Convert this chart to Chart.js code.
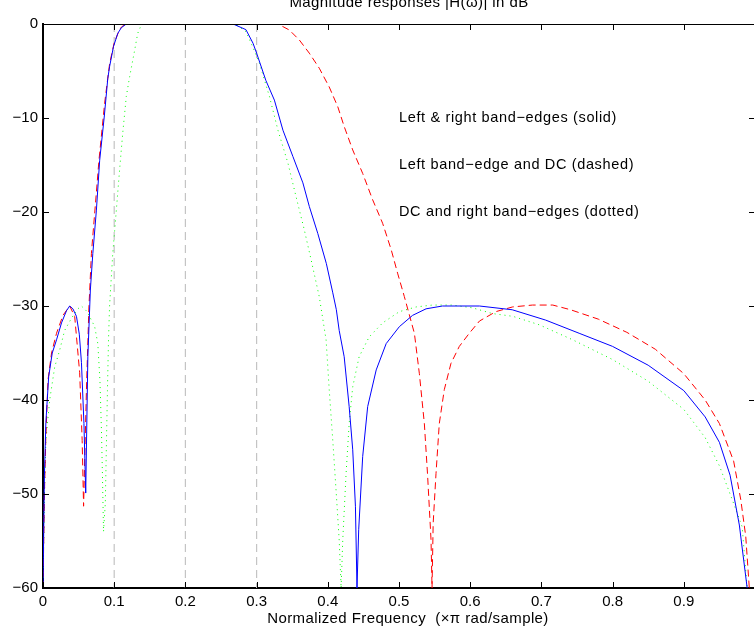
<!DOCTYPE html>
<html>
<head>
<meta charset="utf-8">
<script src="https://cdn.jsdelivr.net/npm/chart.js@4.4.1/dist/chart.umd.min.js"></script>
<style>
  html, body { margin: 0; padding: 0; background: #fff; overflow: hidden; }
  #wrap { position: relative; width: 760px; height: 629px; }
</style>
</head>
<body>
<div id="wrap"><canvas id="magChart" width="760" height="629"></canvas></div>
<script>
/* ---- Data (frequency in xpi rad/sample, magnitude in dB) ---- */
const solidFreq = [0, 0.002, 0.004, 0.008, 0.013, 0.019, 0.026, 0.033, 0.0375, 0.042, 0.047, 0.051, 0.054, 0.0575, 0.06,
  0.063, 0.0665, 0.070, 0.075, 0.0796, 0.086, 0.091, 0.0936, 0.099, 0.105, 0.110, 0.117,
  0.267, 0.285, 0.295, 0.30, 0.313, 0.325, 0.337, 0.351, 0.365, 0.374, 0.386, 0.398, 0.407, 0.412,
  0.416, 0.423, 0.430, 0.435, 0.4388, 0.441, 0.4434, 0.449, 0.456, 0.468, 0.482, 0.5005, 0.519, 0.538,
  0.561, 0.613, 0.659, 0.706, 0.753, 0.80, 0.85, 0.90, 0.93, 0.95, 0.965, 0.978, 0.989, 1.0];
const solidDb = [-60, -48, -42.4, -37.5, -35, -33.6, -31.8, -30.5, -30, -30.3, -31.1, -33, -36, -42.5, -49.9,
  -35.4, -28.3, -24.4, -19.8, -14.5, -9.9, -5.8, -4.5, -2.4, -1.0, -0.4, 0,
  0, -0.6, -2.05, -3.1, -6, -8.1, -11.3, -14.1, -16.9, -19.4, -22.3, -25.5, -28.6, -30.4,
  -32.6, -35.4, -40.7, -45.3, -51.3, -60, -53.8, -46, -40.7, -36.8, -34, -32.2, -31, -30.3,
  -30, -30, -30.4, -31.5, -32.9, -34.3, -36.3, -39, -41.8, -44.5, -48, -53.3, -60, -70];

const dashedFreq = [0, 0.002, 0.004, 0.007, 0.012, 0.019, 0.028, 0.0375, 0.0445, 0.0515, 0.055, 0.057,
  0.061, 0.0645, 0.068, 0.0786, 0.0866, 0.0936, 0.100, 0.108, 0.115,
  0.33, 0.346, 0.36, 0.374, 0.388, 0.402, 0.414, 0.423, 0.435, 0.449, 0.463, 0.477, 0.489, 0.498, 0.5075,
  0.5216, 0.5286, 0.5356, 0.540, 0.545, 0.5464, 0.548, 0.552, 0.5566, 0.5636, 0.573, 0.5847, 0.5987,
  0.613, 0.636, 0.6595, 0.6875, 0.716, 0.741, 0.78, 0.82, 0.86, 0.90, 0.93, 0.95, 0.97, 0.98, 0.987, 0.992, 1.0];
const dashedDb = [-60, -50, -44, -37.9, -35, -32.9, -31, -30, -31.1, -37.1, -44.3, -51.3,
  -38.9, -30.1, -24.4, -14.5, -8.4, -4.2, -2, -0.5, 0,
  0, -0.64, -1.7, -3.1, -4.7, -6.7, -8.8, -10.9, -13.4, -15.9, -18.7, -21.2, -24, -26.5, -29,
  -32.9, -37.2, -42.5, -47.8, -54.9, -60, -53.1, -47.8, -42.5, -38.9, -36.1, -34.3, -32.9,
  -31.6, -30.6, -30.1, -29.9, -29.9, -30.4, -31.4, -32.8, -34.6, -37.2, -40, -42.5, -46.5, -50.6, -54.5, -60, -70];

const dottedFreq = [0, 0.002, 0.004, 0.0094, 0.0164, 0.0234, 0.0304, 0.040, 0.049, 0.054, 0.062, 0.070,
  0.0726, 0.077, 0.080, 0.082, 0.0835, 0.085, 0.0875, 0.089, 0.0905, 0.092, 0.0935, 0.098, 0.103,
  0.1076, 0.112, 0.117, 0.1217, 0.1287, 0.133, 0.138, 0.141,
  0.27, 0.285, 0.295, 0.304, 0.318, 0.33, 0.344, 0.3555, 0.367, 0.3766, 0.388, 0.3976, 0.402, 0.407,
  0.4116, 0.416, 0.4187, 0.421, 0.4257, 0.43, 0.435, 0.444, 0.458, 0.477, 0.5005, 0.524, 0.547, 0.575,
  0.6034, 0.631, 0.66, 0.697, 0.744, 0.80, 0.85, 0.90, 0.93, 0.95, 0.968, 0.982, 0.989, 1.0];
const dottedDb = [-60, -50, -44.3, -40, -36.5, -34.7, -32.6, -31.3, -30.3, -30, -30.6, -31.8,
  -32.2, -34, -38, -43, -48, -54, -51, -45, -39, -33.6, -30, -24.4, -19.8,
  -15.5, -11.6, -7.7, -5.6, -2.8, -1, -0.1, 0,
  0, -0.8, -2.5, -4.2, -7.7, -11.3, -14.8, -18.4, -21.9, -25.1, -29, -33.6, -38.9, -44.3,
  -49.6, -54.9, -60, -54.9, -47.8, -42.5, -38.6, -35.4, -33.3, -31.8, -30.6, -30.1, -29.9, -29.9,
  -30.2, -30.8, -31.1, -32, -33.6, -35.7, -38, -41, -44, -47, -50.6, -53.5, -60, -70];

const bandEdges = [0.1, 0.2, 0.3];
const yTicks = [0, -10, -20, -30, -40, -50, -60];
const noteLabels = ['Left & right band\u2212edges (solid)', 'Left band\u2212edge and DC (dashed)', 'DC and right band\u2212edges (dotted)'];
const noteDb = [-10, -15, -20];

const FONT = 'Helvetica, "Liberation Sans", Arial, sans-serif';

const toPoints = (xs, ys) => xs.map((x, i) => ({ x, y: ys[i] }));

/* ---- Box, inward ticks, titles and notes ---- */
const matlabFrame = {
  id: 'matlabFrame',
  afterDraw(chart) {
    const { ctx, chartArea: a, scales: { x, y } } = chart;
    ctx.save();
    ctx.strokeStyle = '#000';
    ctx.lineWidth = 1;
    ctx.beginPath();
    ctx.moveTo(a.left, a.top + 0.5); ctx.lineTo(a.right, a.top + 0.5);
    ctx.moveTo(a.right - 0.5, a.top); ctx.lineTo(a.right - 0.5, a.bottom);
    for (let v = 0; v <= 10; v++) {
      const px = Math.round(x.getPixelForValue(v / 10)) + 0.5;
      ctx.moveTo(px, a.bottom); ctx.lineTo(px, a.bottom - 6);
      ctx.moveTo(px, a.top); ctx.lineTo(px, a.top + 6);
    }
    yTicks.forEach(v => {
      const py = Math.round(y.getPixelForValue(v)) + 0.5;
      ctx.moveTo(a.left, py); ctx.lineTo(a.left + 6, py);
      ctx.moveTo(a.right, py); ctx.lineTo(a.right - 6, py);
    });
    ctx.stroke();

    ctx.fillStyle = '#000';
    ctx.font = '14.5px ' + FONT;
    ctx.letterSpacing = '0.65px';
    ctx.textAlign = 'left';
    ctx.textBaseline = 'middle';
    noteLabels.forEach((t, i) => {
      ctx.fillText(t, x.getPixelForValue(0.5), y.getPixelForValue(noteDb[i]));
    });

    ctx.font = '15px ' + FONT;
    ctx.letterSpacing = '0.4px';
    ctx.textAlign = 'center';
    ctx.textBaseline = 'alphabetic';
    ctx.fillText('Magnitude responses |H(\u03c9)| in dB', 409, 7);
    ctx.fillText('Normalized Frequency  (\u00d7\u03c0 rad/sample)', 408, 623);
    ctx.restore();
  }
};

const datasets = [
  { label: 'solid', data: toPoints(solidFreq, solidDb), borderColor: '#0000ff', borderWidth: 1 },
  { label: 'dashed', data: toPoints(dashedFreq, dashedDb), borderColor: '#ff0000', borderWidth: 1, borderDash: [7, 4] },
  { label: 'dotted', data: toPoints(dottedFreq, dottedDb), borderColor: '#00ff00', borderWidth: 1, borderDash: [1, 4] }
].concat(bandEdges.map(f => ({
  label: 'edge ' + f,
  data: [{ x: f, y: 0 }, { x: f, y: -60 }],
  borderColor: '#c4c4c4', borderWidth: 1.2, borderDash: [8, 5]
})));

new Chart(document.getElementById('magChart').getContext('2d'), {
  type: 'line',
  data: { datasets },
  options: {
    responsive: false,
    animation: false,
    devicePixelRatio: 1,
    layout: { padding: { top: 24, right: 4, left: 0, bottom: 0 } },
    elements: { point: { radius: 0 }, line: { tension: 0, fill: false } },
    plugins: { legend: { display: false }, tooltip: { enabled: false }, title: { display: false } },
    scales: {
      x: {
        type: 'linear', min: 0, max: 1,
        grid: { display: false, drawTicks: false },
        border: { display: true, color: '#000', width: 2 },
        ticks: {
          stepSize: 0.1, padding: 5, color: '#000', maxRotation: 0,
          font: { family: FONT, size: 15 },
          callback: v => { const r = Math.round(v * 10) / 10; return r === 0 ? '0' : (r === 1 ? '' : r.toFixed(1)); }
        },
        afterFit: s => { s.height = 41; }
      },
      y: {
        type: 'linear', min: -60, max: 0,
        grid: { display: false, drawTicks: false },
        border: { display: true, color: '#000', width: 2 },
        ticks: {
          stepSize: 10, padding: 5, color: '#000',
          font: { family: FONT, size: 15 },
          callback: v => v < 0 ? '\u2212' + Math.abs(v) : '0'
        },
        afterFit: s => { s.width = 43; }
      }
    }
  },
  plugins: [matlabFrame]
});
</script>
</body>
</html>
